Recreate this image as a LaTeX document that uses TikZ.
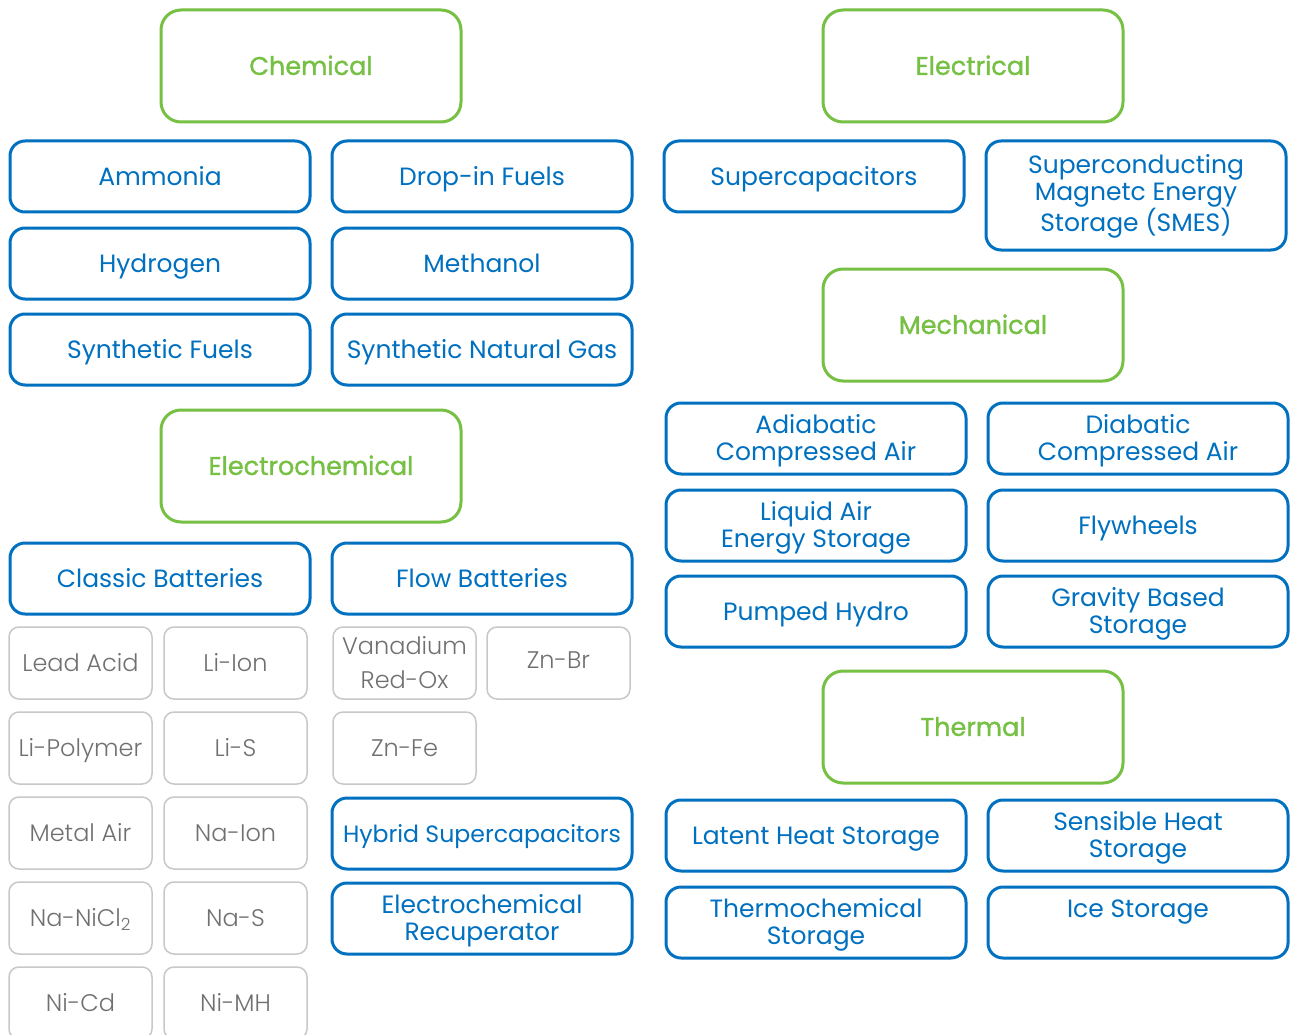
\documentclass[tikz,border=0pt]{standalone}
\usepackage{fontspec}
\setmainfont{Poppins}
\newfontfamily\hdrfont[FakeBold=1.2]{Poppins}
\newfontfamily\lightfont{Poppins Light}
\definecolor{blu}{HTML}{0070C0}
\definecolor{grn}{HTML}{76C043}
\definecolor{gtx}{HTML}{707070}
\definecolor{gbd}{HTML}{C8C8C8}
\begin{document}
\begin{tikzpicture}[x=1pt,y=-1pt,
  hdr/.style={draw=grn, line width=3pt, rounded corners=20pt, minimum width=300pt, minimum height=112pt, inner sep=0pt, align=center, text=grn, font=\hdrfont\fontsize{25.5}{27}\selectfont, text height=17.8pt, text depth=0pt},
  cat/.style={draw=blu, line width=3pt, rounded corners=15pt, minimum width=300pt, minimum height=71pt, inner sep=0pt, align=center, text=blu, font=\fontsize{25}{27}\selectfont, text height=17.5pt, text depth=0pt},
  two/.style={text height=44.5pt},
  three/.style={text height=71.5pt},
  tech/.style={draw=gbd, line width=1.5pt, rounded corners=10pt, minimum width=143pt, minimum height=72pt, inner sep=0pt, align=center, text=gtx, font=\lightfont\fontsize{24}{34}\selectfont, text height=16.8pt, text depth=0pt},
  techtwo/.style={text height=50.8pt}]
\useasboundingbox[fill=white] (0,0) rectangle (1290,1035);
\begin{scope}
\clip (0,0) rectangle (1290,1035);
% headers
\node[hdr] (chem) at (311,66) {Chemical};
\node[hdr] (elec) at (973,66) {Electrical};
\node[hdr] (mech) at (973,325) {Mechanical};
\node[hdr] (echem) at (311,466) {Electrochemical};
\node[hdr] (therm) at (973,727) {Thermal};
% chemical
\node[cat] (ammonia) at (160,176.5) {Ammonia};
\node[cat] (dropin) at (482,176.5) {Drop-in Fuels};
\node[cat] (hydrogen) at (160,263.5) {Hydrogen};
\node[cat] (methanol) at (482,263.5) {Methanol};
\node[cat] (synfuel) at (160,349.5) {Synthetic Fuels};
\node[cat] (sng) at (482,349.5) {Synthetic Natural Gas};
% electrochemical
\node[cat] (classic) at (160,578.5) {Classic Batteries};
\node[cat] (flow) at (482,578.5) {Flow Batteries};
\node[cat, font=\fontsize{23.6}{27}\selectfont] (hybrid) at (482,833.5) {Hybrid Supercapacitors};
\node[cat, two] (recup) at (482,918.5) {Electrochemical\\Recuperator};
\node[tech] (lead) at (80.5,663) {Lead Acid};
\node[tech] (liion) at (235.5,663) {Li-Ion};
\node[tech] (lipoly) at (80.5,748) {Li-Polymer};
\node[tech] (lis) at (235.5,748) {Li-S};
\node[tech] (metalair) at (80.5,833) {Metal Air};
\node[tech] (naion) at (235.5,833) {Na-Ion};
\node[tech] (nanicl) at (80.5,918) {Na-NiCl\textsubscript{2}};
\node[tech] (nas) at (235.5,918) {Na-S};
\node[tech] (nicd) at (80.5,1003) {Ni-Cd};
\node[tech] (nimh) at (235.5,1003) {Ni-MH};
\node[tech, techtwo] (vanad) at (404.5,663) {Vanadium\\Red-Ox};
\node[tech] (znbr) at (558.5,663) {\raisebox{3pt}{Zn-Br}};
\node[tech] (znfe) at (404.5,748) {Zn-Fe};
\end{scope}
% electrical
\node[cat] (supercap) at (814,176.5) {Supercapacitors};
\node[cat, three, minimum height=109pt] (smes) at (1136,195.5) {Superconducting\\Magnetc Energy\\Storage (SMES)};
% mechanical
\node[cat, two] (adiab) at (816,438.5) {Adiabatic\\Compressed Air};
\node[cat, two] (diab) at (1138,438.5) {Diabatic\\Compressed Air};
\node[cat, two] (liquid) at (816,525.5) {Liquid Air\\Energy Storage};
\node[cat] (flywheel) at (1138,525.5) {Flywheels};
\node[cat] (pumped) at (816,611.5) {Pumped Hydro};
\node[cat, two] (gravity) at (1138,611.5) {Gravity Based\\Storage};
% thermal
\node[cat] (latent) at (816,835.5) {Latent Heat Storage};
\node[cat, two] (sensible) at (1138,835.5) {Sensible Heat\\Storage};
\node[cat, two] (thermochem) at (816,922.5) {Thermochemical\\Storage};
\node[cat] (ice) at (1138,922.5) {\raisebox{13.5pt}{Ice Storage}};
\end{tikzpicture}
\end{document}
